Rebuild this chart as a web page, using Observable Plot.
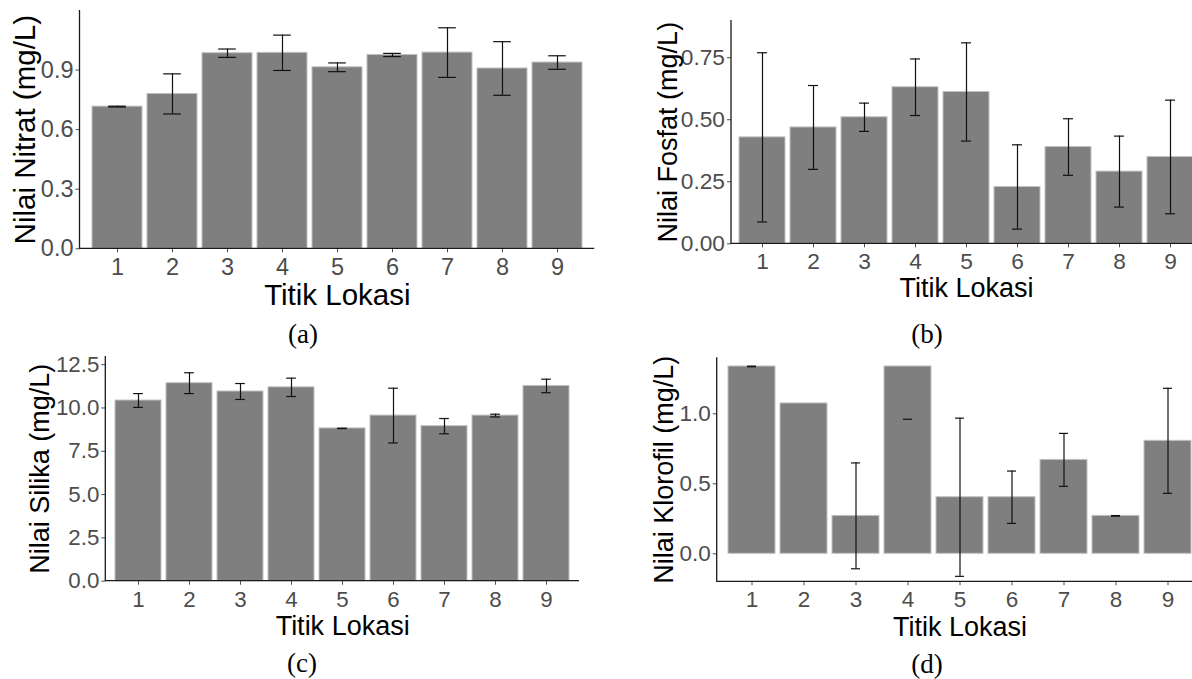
<!DOCTYPE html>
<html>
<head>
<meta charset="utf-8">
<script src="https://cdn.jsdelivr.net/npm/d3@7"></script>
<script src="https://cdn.jsdelivr.net/npm/@observablehq/plot@0.6"></script>
<style>
  html, body { margin: 0; padding: 0; background: #fff; }
  body { position: relative; width: 1192px; height: 679px; overflow: hidden; }
  .panel { position: absolute; }
  .cap { position: absolute; font-family: "Liberation Serif", "Times New Roman", serif; font-size: 27px; line-height: 1; transform: translateX(-50%); color: #000; white-space: nowrap; }
</style>
</head>
<body>
<script>
// ---- data ----
const lokasi = [1, 2, 3, 4, 5, 6, 7, 8, 9];
const nitratMean = [0.716, 0.780, 0.985, 0.987, 0.914, 0.976, 0.988, 0.908, 0.938];
const nitratSd   = [0.002, 0.101, 0.021, 0.089, 0.022, 0.008, 0.125, 0.135, 0.034];
const fosfatMean = [0.429, 0.469, 0.510, 0.631, 0.612, 0.229, 0.390, 0.291, 0.350];
const fosfatSd   = [0.341, 0.169, 0.057, 0.114, 0.198, 0.170, 0.114, 0.143, 0.229];
const silikaMean = [10.43, 11.43, 10.95, 11.19, 8.82, 9.56, 8.95, 9.56, 11.27];
const silikaSd   = [0.40, 0.60, 0.46, 0.53, 0.01, 1.58, 0.44, 0.08, 0.39];
const klorofilMean = [1.338, 1.074, 0.271, 1.338, 0.404, 0.404, 0.671, 0.271, 0.807];
const klorofilSd   = [0.002, null, 0.378, 0.377, 0.565, 0.187, 0.189, 0.002, 0.375];
const nitratTicks = [0, 0.3, 0.6, 0.9];
const fosfatTicks = [0, 0.25, 0.5, 0.75];
const silikaTicks = [0, 2.5, 5, 7.5, 10, 12.5];
const klorofilTicks = [0, 0.5, 1.0];
const xTitle = "Titik Lokasi";
const captions = ["(a)", "(b)", "(c)", "(d)"];

const panels = [
  {mean: nitratMean, sd: nitratSd, ticks: nitratTicks, fmt: ".1f", domain: [0, 1.2], title: "Nilai Nitrat (mg/L)",
   left: 0, top: 0, width: 600, height: 320, mL: 79.5, mR: 5.8, mT: 10, mB: 71.7,
   titleSize: 29.5, tickSize: 23.5, tickPad: 6, capW: 18, ytDx: -54.6, xtDy: 47, cap: {x: 303, y: 320.5}},
  {mean: fosfatMean, sd: fosfatSd, ticks: fosfatTicks, fmt: ".2f", domain: [0, 0.9], title: "Nilai Fosfat (mg/L)",
   left: 600, top: 0, width: 610, height: 320, mL: 131, mR: 9, mT: 20, mB: 76.7,
   titleSize: 27, tickSize: 22.7, tickPad: 5.5, capW: 10, ytDx: -63.6, xtDy: 44.6, cap: {x: 927, y: 320.5}},
  {mean: silikaMean, sd: silikaSd, ticks: silikaTicks, fmt: ".1f", domain: [0, 12.97], title: "Nilai Silika (mg/L)",
   left: 0, top: 340, width: 600, height: 320, mL: 105.3, mR: 21, mT: 16, mB: 79.3,
   titleSize: 27, tickSize: 22.3, tickPad: 5.5, capW: 10, ytDx: -65.6, xtDy: 44.8, cap: {x: 302, y: 649.5}},
  {mean: klorofilMean, sd: klorofilSd, ticks: klorofilTicks, fmt: ".1f", domain: [-0.2, 1.4], title: "Nilai Klorofil (mg/L)",
   left: 600, top: 340, width: 610, height: 320, mL: 116.7, mR: 7.6, mT: 17.3, mB: 78.7,
   titleSize: 27, tickSize: 22.5, tickPad: 5, capW: 9.5, ytDx: -52.6, xtDy: 45.5, cap: {x: 927, y: 650.5}}
];

function axisLines() {
  return function(...args) {
    const dim = args.find(a => a && typeof a === "object" && "marginLeft" in a && "width" in a);
    const {marginLeft: l, marginTop: t, marginBottom: b, marginRight: r, width: w, height: h} = dim;
    const g = d3.create("svg:g");
    g.append("path")
      .attr("d", `M${l},${t}V${h - b}H${w - r}`)
      .attr("fill", "none").attr("stroke", "#1a1a1a").attr("stroke-width", 1.3);
    return g.node();
  };
}

panels.forEach((p, k) => {
  const data = lokasi.map((loc, i) => ({loc, val: p.mean[i], sd: p.sd[i]}));
  const [d0, d1] = p.domain;
  const errs = data.filter(d => d.sd != null).map(d => ({loc: d.loc, lo: d.val - d.sd, hi: d.val + d.sd}));
  const inDom = v => v >= d0 && v <= d1;
  const full = errs.filter(d => inDom(d.lo) && inDom(d.hi));
  const loCaps = errs.filter(d => inDom(d.lo));
  const hiCaps = errs.filter(d => inDom(d.hi));
  const step = (p.width - p.mL - p.mR) / (lokasi.length - 0.1 + 0.3);
  const inset = (0.9 * step - p.capW) / 2;

  const chart = Plot.plot({
    width: p.width, height: p.height,
    marginLeft: p.mL, marginRight: p.mR, marginTop: p.mT, marginBottom: p.mB,
    style: {fontFamily: "'Liberation Sans', Arial, sans-serif", fontSize: p.tickSize + "px", color: "#4d4d4d", background: "transparent", maxWidth: "none", overflow: "visible"},
    x: {type: "band", domain: lokasi, paddingInner: 0.1, paddingOuter: 0.15, tickSize: 4, tickPadding: p.tickPad, label: null},
    y: {domain: p.domain, ticks: p.ticks, tickFormat: d3.format(p.fmt), tickSize: 4, tickPadding: 2.5, label: null},
    marks: [
      Plot.barY(data, {x: "loc", y1: 0, y2: "val", fill: "#7f7f7f", stroke: "#c2c2c2", strokeWidth: 1}),
      Plot.ruleX(full, {x: "loc", y1: "lo", y2: "hi", stroke: "#111", strokeWidth: 1.2}),
      Plot.tickY(loCaps, {x: "loc", y: "lo", stroke: "#111", strokeWidth: 1.2, insetLeft: inset, insetRight: inset}),
      Plot.tickY(hiCaps, {x: "loc", y: "hi", stroke: "#111", strokeWidth: 1.2, insetLeft: inset, insetRight: inset}),
      axisLines(),
      Plot.text([p.title], {frameAnchor: "left", text: d => d, rotate: -90, dx: p.ytDx, textAnchor: "middle", lineAnchor: "middle", fontSize: p.titleSize, fill: "#000"}),
      Plot.text([xTitle], {frameAnchor: "bottom", text: d => d, dy: p.xtDy, textAnchor: "middle", lineAnchor: "middle", fontSize: p.titleSize, fill: "#000"})
    ]
  });
  chart.classList.add("panel");
  chart.style.left = p.left + "px";
  chart.style.top = p.top + "px";
  document.body.appendChild(chart);

  const c = document.createElement("div");
  c.className = "cap";
  c.textContent = captions[k];
  c.style.left = p.cap.x + "px";
  c.style.top = p.cap.y + "px";
  document.body.appendChild(c);
});
</script>
</body>
</html>
